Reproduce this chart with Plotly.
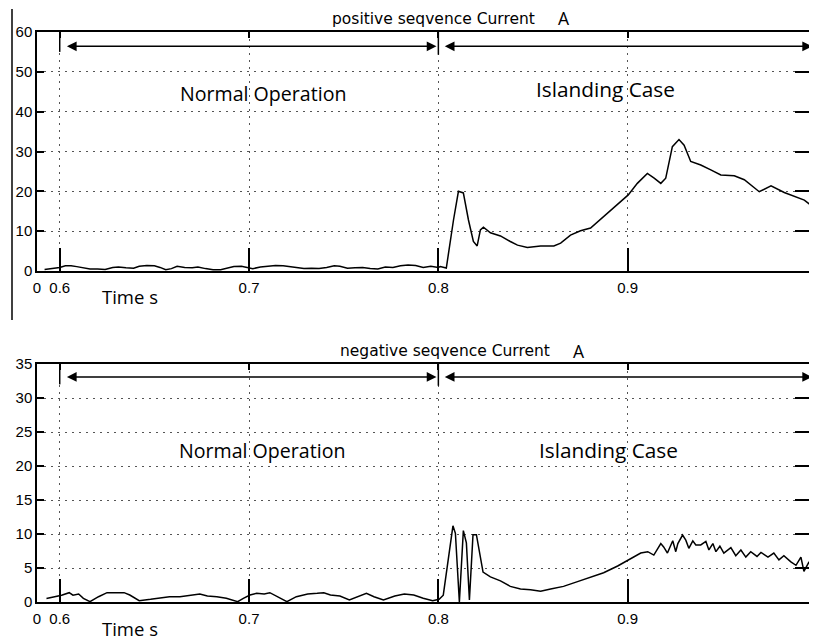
import plotly.graph_objects as go

# ---------------- data ----------------
pos_t_normal = [0.592,0.596,0.600,0.603,0.606,0.609,0.612,0.616,0.620,0.624,
                0.628,0.631,0.635,0.639,0.642,0.646,0.650,0.653,0.656,0.659,
                0.662,0.666,0.670,0.673,0.677,0.681,0.685,0.689,0.692,0.696,
                0.699,0.702,0.706,0.710,0.714,0.718,0.722,0.726,0.729,0.733,
                0.737,0.741,0.745,0.748,0.752,0.756,0.760,0.764,0.768,0.772,
                0.776,0.780,0.784,0.788,0.792,0.796,0.800]
pos_v_normal = [0.4,0.6,0.9,1.3,1.3,1.1,0.8,0.5,0.5,0.4,
                0.9,1.0,0.8,0.7,1.2,1.4,1.3,0.9,0.3,0.6,
                1.2,0.9,0.8,1.0,0.6,0.3,0.3,0.8,1.1,1.2,
                0.9,0.6,1.0,1.2,1.4,1.3,1.1,0.8,0.6,0.7,
                0.6,0.9,1.3,1.2,0.7,0.8,0.9,0.6,0.5,1.0,
                0.9,1.3,1.5,1.4,0.9,1.2,0.9]
pos_t_island = [0.801,0.8042,0.808,0.8106,0.8132,0.8159,0.8185,0.8205,0.8222,0.8238,
                0.8275,0.8328,0.838,0.8418,0.847,0.854,0.861,0.8646,0.8698,0.8751,
                0.8804,0.8857,0.8926,0.9003,0.9051,0.9104,0.914,0.9175,0.9201,0.9236,
                0.9271,0.9298,0.9333,0.9386,0.9439,0.9492,0.9563,0.9616,0.9695,0.9757,
                0.9827,0.9933,1.0]
pos_v_island = [1.1,0.75,12.8,20.0,19.6,12.8,7.4,6.3,10.3,11.0,
                9.6,8.8,7.4,6.5,5.9,6.3,6.3,7.0,9.0,10.1,
                10.8,13.0,15.8,19.1,22.0,24.5,23.3,22.0,23.3,31.2,
                33.0,31.6,27.5,26.6,25.4,24.1,23.9,22.9,19.9,21.4,
                19.7,17.8,15.3]

neg_t_normal = [0.593,0.598,0.601,0.605,0.607,0.610,0.6125,0.616,0.6205,0.625,
                0.628,0.634,0.637,0.642,0.648,0.653,0.658,0.6635,0.669,0.674,
                0.678,0.683,0.688,0.694,0.697,0.7005,0.704,0.708,0.711,0.715,
                0.720,0.725,0.731,0.736,0.7395,0.743,0.748,0.753,0.759,0.762,
                0.766,0.771,0.777,0.782,0.787,0.792,0.797,0.8004]
neg_v_normal = [0.5,0.8,1.0,1.37,1.0,1.18,0.54,0.05,0.78,1.37,
                1.37,1.37,1.03,0.2,0.39,0.54,0.78,0.78,1.03,1.18,
                0.88,0.78,0.54,0.05,0.54,1.03,1.27,1.18,1.37,0.78,
                0.05,0.78,1.18,1.27,1.37,1.03,0.88,0.29,0.88,1.27,
                0.78,0.29,0.88,1.18,1.03,0.54,0.2,0.39]
neg_t_island = [0.8026,0.8053,0.8077,0.809,0.8111,0.8132,0.8148,0.8164,0.8183,0.8201,
                0.8217,0.8236,0.8275,0.8328,0.838,0.8434,0.8487,0.854,0.8593,0.8661,
                0.8735,0.8804,0.8873,0.8947,0.9016,0.9069,0.9106,0.9138,0.9175,0.919,
                0.921,0.9238,0.9254,0.9265,0.929,0.9307,0.9323,0.9344,0.936,0.9386,
                0.9413,0.9429,0.945,0.9466,0.9487,0.9508,0.9545,0.9571,0.9598,0.9624,
                0.965,0.9683,0.9704,0.9741,0.9772,0.9799,0.9825,0.9862,0.9889,0.9915,
                0.9931,0.9958,0.9974,0.9984,1.0]
neg_v_island = [1.0,6.2,11.2,10.1,0.0,10.5,8.7,0.3,9.9,9.9,
                7.2,4.4,3.7,3.1,2.3,1.9,1.8,1.6,1.9,2.3,
                3.0,3.7,4.3,5.3,6.4,7.2,7.4,6.9,8.6,8.1,
                7.2,9.0,7.4,8.6,9.85,9.1,7.9,9.0,8.4,8.4,
                8.9,7.65,8.6,7.4,8.2,7.2,8.0,6.8,7.65,6.6,
                7.4,6.7,7.3,6.6,7.2,6.2,6.8,5.9,5.4,6.6,
                4.5,5.9,4.5,5.0,4.0]

x_tickvals = [0.588, 0.6, 0.7, 0.8, 0.9, 1.0]
x_ticktext = ["0", "0.6", "0.7", "0.8", "0.9", "1"]
pos_yticks = [0, 10, 20, 30, 40, 50, 60]
neg_yticks = [0, 5, 10, 15, 20, 25, 30, 35]
x_range = [0.588, 1.0]
titles = ["positive seqvence Current", "negative seqvence Current"]
unit = "A"
region_labels = ["Normal Operation", "Islanding Case"]
xlabel = "Time s"

# ---------------- figure ----------------
# The page body has an 8px margin, so the figure is sized to fill the
# remaining window area and positions below are given in page pixels.
OFF = 8
W, H = 817 - OFF, 644 - 2 * OFF
def px(x): return (x - OFF) / W
def py(y): return 1 - (y - OFF) / H

fig = go.Figure()
line = dict(color="black", width=1.5)
fig.add_trace(go.Scatter(x=pos_t_normal + pos_t_island, y=pos_v_normal + pos_v_island,
                         mode="lines", line=line, xaxis="x", yaxis="y", hoverinfo="skip"))
fig.add_trace(go.Scatter(x=neg_t_normal + neg_t_island, y=neg_v_normal + neg_v_island,
                         mode="lines", line=line, xaxis="x2", yaxis="y2", hoverinfo="skip"))
# empty traces to register overlay axes (mirror ticks)
fig.add_trace(go.Scatter(x=[], y=[], xaxis="x3", yaxis="y3", showlegend=False))
fig.add_trace(go.Scatter(x=[], y=[], xaxis="x4", yaxis="y4", showlegend=False))

tickfont = dict(family="Liberation Sans, Arial, sans-serif", size=15, color="black")
grid = dict(showgrid=True, gridcolor="#555555", gridwidth=1, griddash="2px,5px")
xdom = [px(37), min(1.0, px(817))]
top_dom = [py(271), py(32)]
bot_dom = [py(602), py(364)]

def xax(anchor):
    return dict(domain=xdom, range=x_range, anchor=anchor, tickmode="array",
                tickvals=x_tickvals, ticktext=x_ticktext, ticks="inside", ticklen=23,
                tickwidth=1.5, tickcolor="black", showline=True, linecolor="black",
                linewidth=1.5, mirror=True, zeroline=False, tickfont=tickfont,
                ticklabelstandoff=2, ticklabeloverflow="allow", automargin=False, **grid)

def yax(anchor, dom, rng, vals):
    return dict(domain=dom, range=rng, anchor=anchor, tickmode="array", tickvals=vals,
                ticks="inside", ticklen=7, tickwidth=1.5, tickcolor="black",
                showline=True, linecolor="black", linewidth=1.5, mirror=True,
                zeroline=False, tickfont=tickfont, ticklabeloverflow="allow",
                automargin=False, **grid)

def xtop(over, anchor):
    return dict(overlaying=over, anchor=anchor, side="top", range=x_range,
                tickmode="array", tickvals=x_tickvals[1:5], ticks="inside", ticklen=6,
                tickwidth=1.5, tickcolor="black", showticklabels=False,
                showgrid=False, showline=False, zeroline=False, automargin=False)

def yright(over, anchor, rng, vals):
    return dict(overlaying=over, anchor=anchor, side="right", range=rng,
                tickmode="array", tickvals=vals[1:-1], ticks="inside", ticklen=22,
                tickwidth=1.5, tickcolor="black", showticklabels=False,
                showgrid=False, showline=False, zeroline=False, automargin=False)

fig.update_layout(
    template="none",
    width=W, height=H, margin=dict(l=0, r=0, t=0, b=0, pad=0),
    paper_bgcolor="white", plot_bgcolor="white", showlegend=False,
    xaxis=xax("y"), yaxis=yax("x", top_dom, [0, 60], pos_yticks),
    xaxis2=xax("y2"), yaxis2=yax("x2", bot_dom, [0, 35], neg_yticks),
    xaxis3=xtop("x", "y"), yaxis3=yright("y", "x", [0, 60], pos_yticks),
    xaxis4=xtop("x2", "y2"), yaxis4=yright("y2", "x2", [0, 35], neg_yticks),
)

txt = "Open Sans, Lato, sans-serif"
ann = []
# titles
ann.append(dict(x=px(537), y=py(18.5), xref="paper", yref="paper", text=titles[0],
                showarrow=False, xanchor="right", yanchor="middle",
                font=dict(family="DejaVu Sans", size=15.5, color="black")))
ann.append(dict(x=px(564), y=py(18), xref="paper", yref="paper", text=unit,
                showarrow=False, xanchor="center", yanchor="middle",
                font=dict(family=txt, size=17.5, color="black")))
ann.append(dict(x=px(552), y=py(351), xref="paper", yref="paper", text=titles[1],
                showarrow=False, xanchor="right", yanchor="middle",
                font=dict(family="DejaVu Sans", size=15.5, color="black")))
ann.append(dict(x=px(579), y=py(351), xref="paper", yref="paper", text=unit,
                showarrow=False, xanchor="center", yanchor="middle",
                font=dict(family=txt, size=17.5, color="black")))
# region labels
for (xc, yc, s, fs) in [(263, 94, region_labels[0], 19.6), (605, 89, region_labels[1], 20.8),
                        (262, 450, region_labels[0], 19.6), (608, 450, region_labels[1], 20.8)]:
    ann.append(dict(x=px(xc), y=py(yc), xref="paper", yref="paper", text=s,
                    showarrow=False, xanchor="center", yanchor="middle",
                    font=dict(family=txt, size=fs, color="black")))
# time labels
for yc in (296, 628):
    ann.append(dict(x=px(130), y=py(yc), xref="paper", yref="paper", text=xlabel,
                    showarrow=False, xanchor="center", yanchor="middle",
                    font=dict(family=txt, size=18.5, color="black")))
# arrows
for (xr, yr, yv) in [("x", "y", 56.4), ("x2", "y2", 33.1)]:
    for (a, b) in [(0.603, 0.7990), (0.8026, 0.9974)]:
        ann.append(dict(x=b, y=yv, ax=a, ay=yv, xref=xr, yref=yr, axref=xr, ayref=yr,
                        text="", showarrow=True, arrowhead=2, arrowside="end+start",
                        arrowsize=1.3, arrowwidth=1.5, arrowcolor="black", standoff=0,
                        startstandoff=0))
fig.update_layout(annotations=ann)

shapes = []
# arrow end bars
for (xr, yr, y0, y1a, y1b) in [("x", "y", 60, 55.0, 54.3), ("x2", "y2", 35, 32.0, 31.8)]:
    shapes.append(dict(type="line", xref=xr, yref=yr, x0=0.6, x1=0.6, y0=y0, y1=y1a,
                       line=dict(color="black", width=1.5)))
    shapes.append(dict(type="line", xref=xr, yref=yr, x0=0.8, x1=0.8, y0=y0, y1=y1b,
                       line=dict(color="black", width=1.5)))
# scope frame edge at left of upper panel
shapes.append(dict(type="line", xref="paper", yref="paper", x0=px(12), x1=px(12),
                   y0=py(9), y1=py(320), line=dict(color="black", width=1.5)))
fig.update_layout(shapes=shapes)

fig.write_html("out.html")
